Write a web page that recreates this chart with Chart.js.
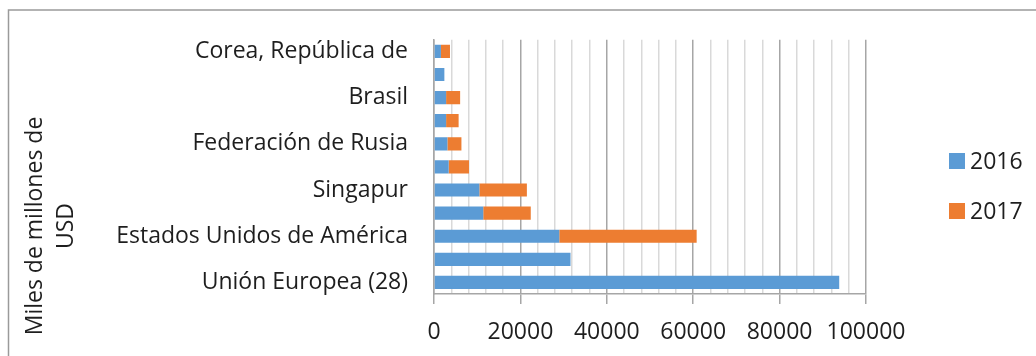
<!DOCTYPE html>
<html lang="es">
  <head>
    <meta charset="utf-8" />
    <title>Importaciones 2016-2017</title>
    <style>
      body { margin: 0; background: #fff; }
    </style>
  </head>
  <body>
    <div>
      <canvas id="canvas" width="1036" height="356"></canvas>
    </div>

    <script src="https://cdn.jsdelivr.net/npm/chart.js"></script>

    <script>
      // top-to-bottom order; blank names are categories whose labels were skipped
      const categories = [
        "Corea, República de",
        "",
        "Brasil",
        "",
        "Federación de Rusia",
        "",
        "Singapur",
        "",
        "Estados Unidos de América",
        "",
        "Unión Europea (28)",
      ];
      const values2016 = [1600, 2400, 2800, 2800, 3100, 3400, 10500, 11400, 29000, 31600, 93800];
      const values2017 = [2100, 0, 3250, 2900, 3250, 4700, 11000, 11000, 31800, 0, 0];
      const seriesLabels = ["2016", "2017"];
      const xTicks = [0, 20000, 40000, 60000, 80000, 100000];
      const yTitle = ["Miles de millones de", "USD"];

      const FONT = "'Open Sans', sans-serif";
      const TEXT = "#1e1e1e";

      const ctx = document.getElementById("canvas");

      // chart frame + rotated y title + legend on the right
      const decorations = {
        id: "decorations",
        beforeDraw(chart) {
          const c = chart.ctx;
          c.save();
          c.fillStyle = "#ffffff";
          c.fillRect(0, 0, chart.width, chart.height);
          c.strokeStyle = "#9a9a9a";
          c.lineWidth = 1.5;
          c.beginPath();
          c.moveTo(8.5, chart.height);
          c.lineTo(8.5, 10);
          c.lineTo(chart.width, 10);
          c.stroke();
          c.restore();
        },
        afterDraw(chart) {
          const c = chart.ctx;
          c.save();
          c.fillStyle = TEXT;
          c.font = "23px " + FONT;
          c.textAlign = "center";
          c.textBaseline = "middle";
          c.translate(0, 226);
          c.rotate(-Math.PI / 2);
          c.fillText(yTitle[0], 0, 35);
          c.fillText(yTitle[1], 0, 66);
          c.restore();

          c.save();
          c.font = "23px " + FONT;
          c.textBaseline = "middle";
          chart.data.datasets.forEach(function (ds, i) {
            const y = 161 + i * 50;
            c.fillStyle = ds.backgroundColor;
            c.fillRect(949, y - 8, 16, 16);
            c.fillStyle = TEXT;
            c.fillText(ds.label, 970, y + 1);
          });
          c.restore();
        },
      };

      new Chart(ctx, {
        type: "bar",
        data: {
          labels: categories,
          datasets: [
            {
              label: seriesLabels[0],
              data: values2016,
              backgroundColor: "#5B9BD5",
            },
            {
              label: seriesLabels[1],
              data: values2017,
              backgroundColor: "#ED7D31",
            },
          ],
        },
        options: {
          indexAxis: "y",
          responsive: false,
          animation: false,
          events: [],
          layout: { padding: { left: 0, top: 38, right: 170, bottom: 0 } },
          datasets: {
            bar: { barPercentage: 0.57, categoryPercentage: 1, borderWidth: 0 },
          },
          plugins: {
            legend: { display: false },
            tooltip: { enabled: false },
          },
          scales: {
            x: {
              stacked: true,
              min: 0,
              max: 100000,
              afterFit(scale) {
                scale.height = 62;
              },
              ticks: {
                stepSize: 4000,
                autoSkip: false,
                maxRotation: 0,
                padding: 15,
                color: TEXT,
                font: { family: FONT, size: 23 },
                callback: (value) => (xTicks.includes(value) ? String(value) : ""),
              },
              grid: {
                drawTicks: true,
                tickLength: 10,
                lineWidth: 1.5,
                color: (c) => (c.tick && c.tick.value % 20000 === 0 ? "#a6a6a6" : "#d9d9d9"),
                tickColor: (c) =>
                  c.tick && c.tick.value % 20000 === 0 ? "#a6a6a6" : "rgba(0,0,0,0)",
              },
              border: { display: true, color: "#a6a6a6", width: 1.5 },
            },
            y: {
              stacked: true,
              afterFit(scale) {
                scale.width = 434;
              },
              ticks: {
                autoSkip: false,
                padding: 26,
                color: TEXT,
                font: { family: FONT, size: 23 },
              },
              grid: { display: false, drawTicks: false },
              border: { display: true, color: "#a6a6a6", width: 1.5 },
            },
          },
        },
        plugins: [decorations],
      });
    </script>
  </body>
</html>
